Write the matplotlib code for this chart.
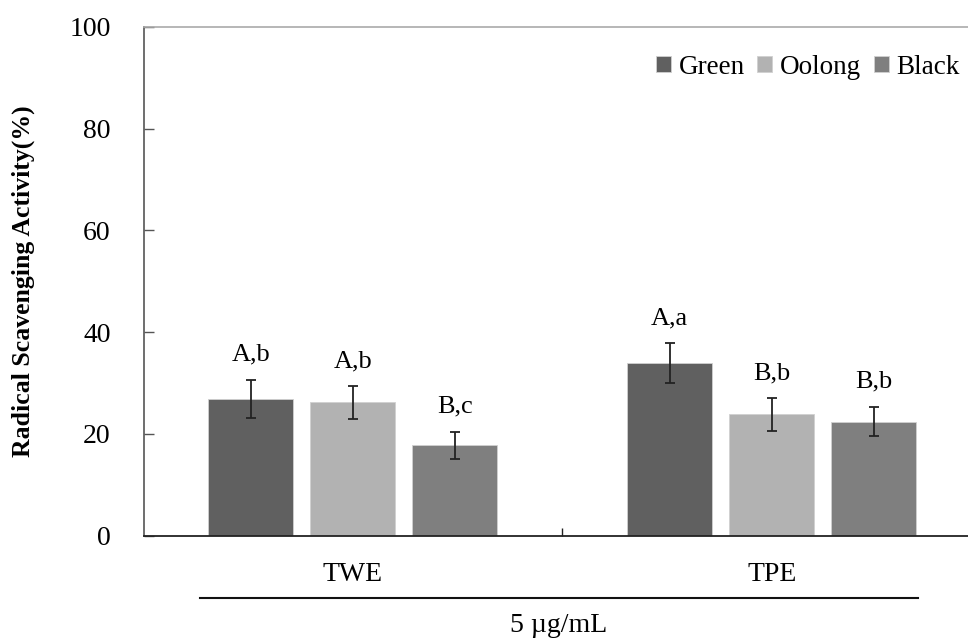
import matplotlib
matplotlib.use("Agg")
import matplotlib.pyplot as plt
import numpy as np

plt.rcParams["font.family"] = ["Liberation Serif", "DejaVu Serif"]

groups = ["TWE", "TPE"]
teas = ["Green", "Oolong", "Black"]
means = {
    "Green": [26.9, 33.9],
    "Oolong": [26.2, 23.8],
    "Black": [17.7, 22.4],
}
errors = {
    "Green": [3.7, 3.9],
    "Oolong": [3.2, 3.2],
    "Black": [2.7, 2.9],
}
letters = {
    "Green": ["A,b", "A,a"],
    "Oolong": ["A,b", "B,b"],
    "Black": ["B,c", "B,b"],
}
colors = {"Green": "#606060", "Oolong": "#b2b2b2", "Black": "#7f7f7f"}

W, H = 968, 640
fig = plt.figure(figsize=(W / 100, H / 100), dpi=100)
ax = fig.add_axes([144 / W, 1 - 535.5 / H, 1 - 144 / W, (535.5 - 27) / H])

x = np.arange(len(groups))
width = 0.203
step = 0.2435
handles = []
for i, tea in enumerate(teas):
    pos = x + (i - 1) * step
    b = ax.bar(pos, means[tea], width, color=colors[tea], edgecolor="#d0d0d0",
               linewidth=0.6, label=tea, zorder=2)
    handles.append(b)
    ax.errorbar(pos, means[tea], yerr=errors[tea], fmt="none", ecolor="#222222",
                elinewidth=1.3, capsize=3.6, capthick=1.3, zorder=3)
    for p, m, e, t in zip(pos, means[tea], errors[tea], letters[tea]):
        ax.annotate(t, (p, m + e), xytext=(0, 18), textcoords="offset points",
                    ha="center", va="center", fontsize=19)

ax.set_xlim(-0.498, 1.4685)
ax.set_ylim(0, 100)
ax.set_yticks([0, 20, 40, 60, 80, 100])
ax.tick_params(axis="y", direction="in", length=7, width=1, color="#555555",
               labelsize=20, pad=24)
ax.set_xticks(x)
ax.set_xticklabels(groups)
ax.tick_params(axis="x", which="major", length=0, labelsize=20, pad=19)
ax.set_xticks([0.5], minor=True)
ax.tick_params(axis="x", which="minor", direction="in", length=6, width=1, color="#222222")

ax.spines["right"].set_visible(False)
ax.spines["top"].set_color("#aaaaaa")
ax.spines["top"].set_linewidth(1.2)
ax.spines["left"].set_color("#555555")
ax.spines["left"].set_linewidth(1.2)
ax.spines["bottom"].set_color("#222222")
ax.spines["bottom"].set_linewidth(1.3)

ax.set_ylabel("Radical Scavenging Activity(%)", fontsize=18.5, fontweight="bold")
ax.yaxis.set_label_coords(-0.132, 0.5)

ax.legend(handles=handles, loc="center right", ncol=3, frameon=False,
          bbox_to_anchor=(960 / W, 1 - 67 / H), bbox_transform=fig.transFigure,
          borderpad=0, borderaxespad=0, fontsize=19.5, handlelength=0.55,
          handleheight=0.55, handletextpad=0.3, columnspacing=0.45)

fig.add_artist(plt.Line2D([200 / W, 918 / W], [1 - 598 / H, 1 - 598 / H],
                          color="#111111", linewidth=1.5))
fig.text(559 / W, 1 - 626 / H, "5 µg/mL", ha="center", va="center", fontsize=20)

fig.savefig("out.png", dpi=100)
